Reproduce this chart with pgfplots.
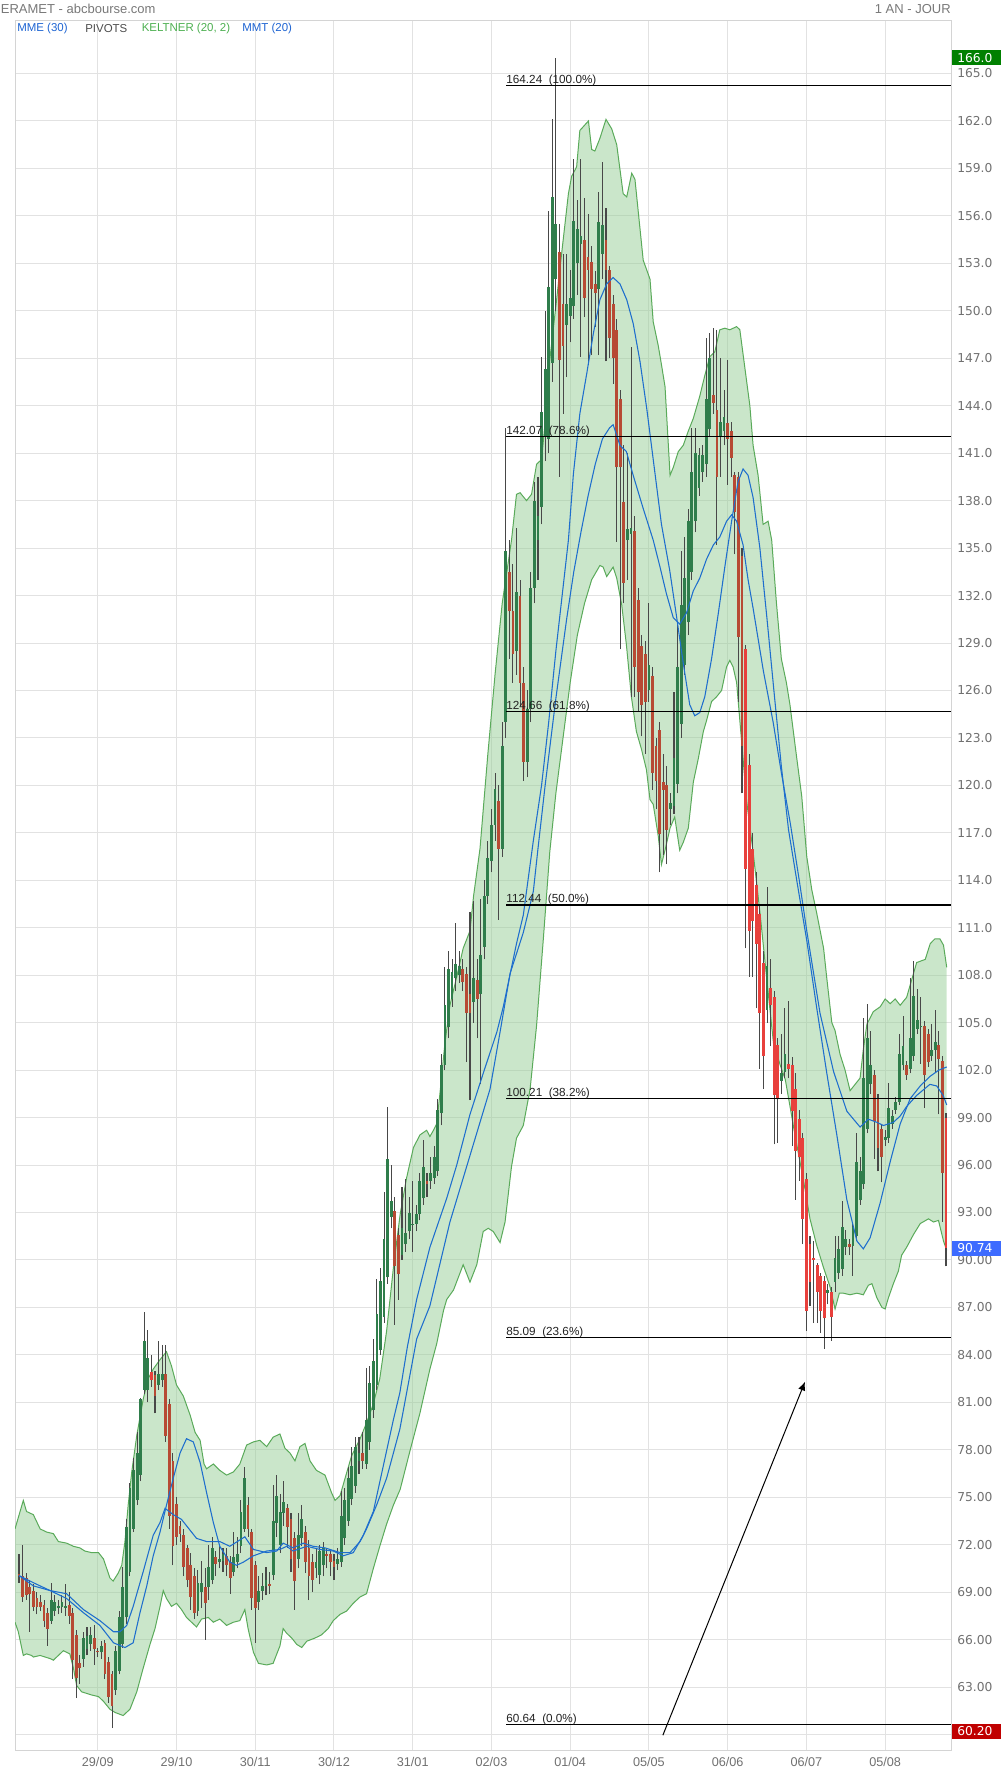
\documentclass[border=0pt]{standalone}
\usepackage{pgfplots}
\pgfplotsset{compat=1.18}
\usepackage{pgfplotstable}
\usetikzlibrary{arrows.meta}
\usepackage{fontspec}
\setmainfont{Liberation Sans}
\newfontfamily\dejavu{DejaVu Sans}
\definecolor{labgray}{RGB}{112,112,112}
\definecolor{headgray}{RGB}{120,120,120}
\definecolor{framegray}{RGB}{212,212,212}
\definecolor{gridgray}{RGB}{226,226,226}
\definecolor{wick}{RGB}{72,72,72}
\definecolor{cgreen}{RGB}{47,125,75}
\definecolor{cred}{RGB}{183,74,52}
\definecolor{cbright}{RGB}{232,64,60}
\definecolor{keltline}{RGB}{90,170,90}
\definecolor{keltfill}{RGB}{150,205,150}
\definecolor{mablue}{RGB}{30,110,205}
\definecolor{legblue}{RGB}{30,100,210}
\definecolor{leggreen}{RGB}{76,175,80}
\definecolor{boxgreen}{RGB}{0,128,0}
\definecolor{boxblue}{RGB}{61,107,255}
\definecolor{boxred}{RGB}{192,0,0}
\definecolor{fibtext}{RGB}{34,34,34}
\newcommand\hfont{\fontsize{9.75pt}{11pt}\selectfont}
\newcommand\lfont{\fontsize{8.6pt}{10pt}\selectfont}
\newcommand\xfont{\fontsize{9.5pt}{11pt}\selectfont}
\newcommand\yfont{\dejavu\fontsize{9.2pt}{10pt}\selectfont}
\newcommand\ffont{\fontsize{8.8pt}{10pt}\selectfont}

\pgfplotstableread{
i o h l c
9 67.2 69.6 67.0 68.5
10 67.8 68.8 67.5 68.4
11 68.0 68.5 67.6 68.1
12 68.05 68.8 67.7 68.4
13 68.0 69.5 67.5 68.1
18 64.8 66.5 64.3 66.1
19 65.4 66.8 65.0 66.2
20 65.7 66.8 65.3 66.3
23 65.2 65.9 64.8 65.6
27 62.8 65.6 62.5 65.3
28 64.0 67.8 63.8 67.4
29 65.7 70.6 65.5 69.3
30 67.4 73.6 67.0 73.1
31 70.3 75.9 70.0 75.6
32 73.0 77.5 72.8 76.7
33 74.8 79.1 74.5 77.8
34 76.4 81.3 76.0 81.2
35 81.8 86.7 81.5 84.9
36 81.8 85.6 81.0 83.8
39 82.1 84.9 81.8 82.8
40 82.4 84.6 82.0 82.8
50 67.8 70.4 67.5 69.6
51 69.0 71.0 68.0 69.6
53 69.3 72.0 68.5 70.6
54 69.8 72.5 69.5 71.8
56 70.9 72.0 70.5 71.1
57 71.0 71.8 70.3 71.4
60 70.3 72.8 70.0 71.2
61 70.9 72.5 70.5 71.4
62 71.9 74.8 71.5 74.05
63 73.0 76.9 72.8 76.2
67 68.4 70.0 67.9 69.1
68 69.1 70.2 68.5 69.4
69 69.4 70.6 68.8 69.8
71 70.1 75.8 69.8 73.5
72 73.4 76.4 72.5 75.1
73 72.0 75.2 71.5 74.05
74 74.0 76.0 73.2 74.7
78 71.1 74.0 70.5 72.6
79 72.4 74.5 71.9 73.6
83 70.5 71.7 69.9 70.9
84 70.1 72.0 69.5 71.6
85 70.7 72.2 70.0 71.8
89 70.8 71.8 70.4 71.1
90 70.9 75.4 70.6 73.8
91 72.4 75.6 72.0 74.8
92 73.5 76.9 73.2 76.2
93 74.9 78.2 74.5 77.0
94 75.7 78.8 75.3 78.2
95 77.3 78.8 76.5 77.8
97 77.1 83.2 76.8 79.9
98 78.5 83.3 78.0 82.2
99 80.5 85.0 80.0 83.6
100 82.1 88.8 81.8 86.6
101 84.3 89.5 84.0 88.7
102 86.4 94.3 86.0 91.3
103 88.9 99.7 88.5 96.4
104 92.7 96.0 92.0 93.7
107 90.3 94.6 90.0 92.0
108 91.0 95.1 90.5 91.7
109 91.8 94.0 91.3 93.0
110 92.2 95.0 90.5 92.3
111 92.3 93.5 91.8 92.9
112 92.9 95.5 92.5 95.0
113 93.9 97.6 93.5 95.9
115 95.0 96.5 94.5 95.5
116 95.2 97.2 94.8 96.5
117 95.6 100.2 95.3 99.5
118 99.3 103.0 98.5 102.3
119 102.3 108.5 102.0 106.1
120 104.7 109.5 104.0 108.4
121 106.5 109.0 106.0 108.2
122 107.8 111.3 107.0 108.7
123 108.0 109.5 107.5 108.6
127 106.3 112.7 105.0 107.8
129 106.8 112.8 101.1 109.3
130 109.8 114.0 109.0 113.0
131 113.0 116.5 112.5 115.4
132 115.2 118.5 114.5 117.5
133 117.5 120.8 116.5 119.8
135 116.0 124.0 115.5 122.5
136 124.0 142.6 123.0 134.8
139 128.5 136.3 127.0 132.2
142 121.5 126.0 120.5 124.8
143 124.8 133.5 124.0 132.5
144 132.5 139.2 131.5 138.0
145 135.5 139.5 133.0 137.0
146 137.6 147.1 136.5 143.6
147 142.0 150.0 140.5 146.3
148 141.9 156.3 141.0 151.5
149 146.7 162.1 145.5 157.2
150 152.0 166.0 150.0 155.5
153 149.1 153.6 145.8 150.4
154 149.7 152.6 148.0 150.8
155 150.3 159.6 149.5 155.7
156 153.0 157.0 151.0 155.2
157 154.2 159.6 147.1 154.7
162 151.4 157.5 147.2 155.6
163 153.6 159.4 152.0 155.4
170 135.5 141.0 133.0 136.2
171 135.9 147.7 125.6 136.3
176 126.0 131.5 125.3 127.6
182 118.5 119.5 117.5 118.9
183 118.7 125.9 118.2 121.7
184 120.1 130.4 119.5 127.5
185 123.9 134.8 123.0 131.4
186 127.6 135.7 127.0 133.1
187 130.3 137.5 129.5 136.7
188 133.5 142.6 133.0 139.8
189 136.7 142.6 136.0 141.0
190 138.8 141.3 138.3 140.9
191 139.8 141.5 139.2 140.9
192 140.3 148.3 139.5 144.4
193 142.5 148.6 142.0 147.0
196 142.0 147.0 139.5 143.0
197 142.4 145.0 141.5 143.3
209 105.8 113.6 105.0 108.6
213 101.3 104.3 100.5 101.8
214 101.9 105.9 101.5 103.0
226 87.9 88.5 87.2 88.1
228 88.6 91.5 88.0 90.1
229 89.2 91.5 88.8 90.7
230 89.4 93.7 89.0 92.1
231 90.8 91.9 90.3 91.3
233 90.9 92.3 89.0 92.1
234 91.5 98.0 91.2 96.2
235 93.8 96.5 93.5 95.6
236 94.8 105.3 94.5 101.5
237 98.3 106.2 98.0 104.0
238 101.1 104.5 100.5 102.3
242 97.6 98.2 97.2 97.8
243 97.7 101.2 97.4 99.6
244 98.6 99.5 98.3 99.1
245 99.5 100.3 99.2 100.0
246 100.0 104.3 99.8 103.0
247 102.3 105.4 102.0 103.5
249 102.1 107.8 101.8 104.0
250 102.9 108.9 102.6 106.7
251 104.6 107.1 104.3 105.2
252 104.7 106.6 102.4 104.8
255 102.9 104.9 102.6 103.3
256 103.3 105.8 101.8 103.8
}\greenT

\pgfplotstableread{
i o h l c
0 70.16 71.4 69.6 70.0
1 70.0 72.0 68.4 68.7
2 69.9 70.2 68.5 68.8
3 69.3 69.8 66.5 68.9
4 69.1 69.5 67.8 68.05
5 68.6 69.0 67.6 68.05
6 68.4 68.8 67.8 68.05
7 68.2 68.5 66.8 67.2
8 67.7 68.0 65.6 66.7
14 68.2 69.0 67.0 67.5
15 67.7 68.0 63.5 64.7
16 66.3 66.6 62.3 63.6
17 64.5 65.0 63.2 64.2
21 66.1 66.9 64.4 65.4
22 65.3 65.5 64.9 65.2
24 65.8 66.0 63.5 63.8
25 64.6 64.9 62.0 62.4
26 63.8 64.0 60.4 61.8
38 82.7 83.0 80.3 81.4
41 82.8 84.6 78.5 78.9
42 80.9 81.2 73.0 73.8
43 77.3 77.8 70.7 71.9
44 74.6 75.0 72.0 72.5
45 73.2 73.5 72.2 72.7
46 72.6 73.0 70.0 70.6
47 71.8 72.0 69.3 69.8
48 70.7 71.5 67.9 68.7
49 70.0 70.5 67.3 67.7
52 69.3 70.5 66.0 68.3
55 71.2 71.6 70.0 70.8
58 71.3 71.8 70.0 70.7
59 70.9 71.3 68.9 69.9
64 74.5 75.0 72.5 73.0
65 72.8 73.0 67.9 68.6
66 70.7 71.0 65.8 68.0
70 69.5 70.3 68.9 69.4
75 74.3 74.6 71.8 73.1
76 73.6 74.0 70.3 71.1
77 72.4 72.8 67.9 69.7
80 72.8 73.2 70.2 70.9
81 71.8 72.3 68.5 70.0
82 70.9 71.4 69.0 69.8
86 71.4 71.8 70.5 71.3
87 71.4 71.7 70.0 70.9
88 71.0 71.4 69.8 70.6
96 77.8 79.1 76.8 77.3
105 93.1 94.0 85.9 89.6
106 91.6 92.0 87.5 89.1
114 95.0 95.5 94.0 94.8
124 108.4 109.0 107.0 107.6
125 108.1 108.5 102.5 105.6
126 106.8 112.0 100.1 105.6
128 107.7 109.0 104.0 106.5
134 119.0 120.0 111.5 116.0
137 133.5 135.5 128.0 131.0
138 131.0 134.0 126.5 128.3
140 132.0 133.0 125.0 126.5
141 126.5 127.5 120.3 121.5
151 153.7 155.5 139.5 146.9
152 150.4 153.6 143.5 147.8
158 154.5 157.1 149.6 150.8
159 153.4 156.1 146.6 152.6
160 153.1 154.1 147.2 151.4
161 151.7 152.5 149.0 151.1
164 154.5 156.5 146.8 152.6
165 152.6 152.8 147.0 148.3
166 150.4 151.0 145.4 147.0
167 148.8 149.5 135.4 140.1
168 144.4 145.0 128.6 140.1
169 137.9 141.5 131.5 132.8
172 136.1 137.0 125.6 127.5
173 131.7 132.5 124.7 125.9
174 128.8 129.5 123.1 125.1
175 128.3 129.1 122.0 125.3
177 126.9 127.5 119.7 120.8
178 122.5 123.0 118.5 120.3
179 123.5 124.0 114.5 116.9
180 120.2 122.0 115.6 119.7
181 120.0 121.2 115.0 117.2
194 144.7 148.9 143.5 144.2
195 143.7 148.8 135.2 139.5
198 142.9 146.9 139.0 141.9
199 142.4 143.0 139.5 140.7
200 139.6 139.8 134.6 137.3
201 139.5 139.8 125.3 129.4
202 134.5 135.0 119.5 122.5
232 91.0 91.3 90.3 90.8
239 101.7 102.0 96.4 98.8
240 100.2 100.5 95.6 97.1
241 98.3 98.6 94.9 96.5
248 102.3 102.6 101.4 101.7
253 104.8 105.1 99.6 101.7
254 104.3 104.6 102.2 102.5
257 103.6 104.5 99.2 102.7
258 102.6 102.9 92.4 95.5
}\redT

\pgfplotstableread{
i o h l c
37 82.9 84.0 82.0 82.4
203 128.6 128.9 109.7 114.7
204 121.3 122.0 107.9 110.8
205 116.0 117.0 107.9 111.4
206 113.7 114.5 105.9 110.0
207 111.9 112.5 102.1 105.6
208 108.8 109.5 100.8 102.9
210 107.2 109.0 103.5 106.1
211 106.6 107.0 97.3 100.4
212 103.6 104.0 97.4 100.2
215 102.4 106.4 101.5 102.1
216 102.3 102.8 97.2 99.4
217 100.8 101.8 93.8 96.9
218 98.9 99.5 95.0 96.5
219 97.7 98.0 91.0 92.6
220 95.1 95.5 85.5 86.8
221 91.0 91.5 87.1 88.6
222 90.1 91.2 86.0 90.0
223 89.7 89.8 86.0 88.0
224 89.0 89.2 85.4 86.8
225 88.7 89.0 84.4 86.3
227 88.0 88.3 84.9 86.4
259 99.0 99.3 89.6 90.74
}\brightT

\begin{document}
\begin{tikzpicture}
\begin{axis}[
  at={(11.25pt,17.25pt)}, anchor=south west,
  scale only axis, width=702pt, height=1297.5pt,
  xmin=-1.12, xmax=260.4, ymin=58.96, ymax=168.32,
  axis line style={draw=framegray, line width=0.75pt},
  major tick length=0pt,
  xtick={22,44,...,242},
  xticklabels={29/09,29/10,30/11,30/12,31/01,02/03,01/04,05/05,06/06,06/07,05/08},
  ytick={60,63,...,165},
  yticklabels={{},63.00,66.00,69.00,72.00,75.00,78.00,81.00,84.00,87.00,90.00,93.00,96.00,99.00,102.0,105.0,108.0,111.0,114.0,117.0,120.0,123.0,126.0,129.0,132.0,135.0,138.0,141.0,144.0,147.0,150.0,153.0,156.0,159.0,162.0,165.0},
  yticklabel pos=right,
  grid=major, grid style={draw=gridgray, line width=0.75pt},
  xticklabel style={font=\xfont, text=labgray, anchor=north, inner sep=0pt, yshift=-4.5pt},
  yticklabel style={font=\yfont, text=labgray, anchor=west, inner sep=0pt, xshift=4.5pt},
]
% Keltner channel fill
\addplot[fill=keltfill, fill opacity=0.5, draw=none, forget plot] coordinates {
(-1.12,73.0) (1.2,74.8) (2.1,74.1) (4,73.9) (5.9,73.0) (7.7,72.8) (9.6,72.7) (11,72.2) (13.3,72.1) (15.2,71.9) (17,71.8) (18.4,71.6) (20.3,71.5) (22.2,71.5) (23.6,71.1) (24.5,70.5) (25.4,69.9) (26.3,69.7) (27.7,70.2) (28.7,70.7) (29.6,72.2) (30.5,74.5) (31.5,76.6) (32.9,78.9) (34.7,81.2) (36.1,82.5) (37.5,83.1) (39.4,83.7) (41.2,84.2) (42.6,83.3) (44,82.1) (45.9,81.4) (47.8,80.2) (49.2,79.1) (50.6,78.6) (51.7,77.1) (52.4,76.8) (54.3,77.1) (56.1,76.7) (58,76.4) (59.9,76.6) (61.7,77.1) (63.6,78.3) (65.5,78.5) (67.3,78.6) (69.2,78.2) (71,78.8) (72.9,79.0) (74.3,78.1) (75.7,77.8) (77.1,77.3) (78.5,78.2) (79.9,78.4) (81.3,77.3) (83.1,76.7) (85.5,76.4) (87.3,75.3) (88.3,74.8) (89.7,75.1) (91.1,76.2) (92.9,77.6) (95.3,78.7) (97.1,79.7) (99,80.9) (100.8,82.5) (102.7,85.5) (104.6,89.5) (106.5,92.9) (108.3,95.2) (110.2,97.1) (112,97.9) (113.9,98.2) (114.8,97.8) (115.8,98.2) (116.7,98.6) (117.6,100.5) (119,103.7) (120.4,106.1) (122.3,107.9) (124.1,109.7) (126,110.8) (127,113) (128.8,116) (131,122) (133,127) (135,131.5) (137.6,135.5) (139,138.4) (140,138.5) (141.8,138.0) (143.2,138.4) (144.6,140.3) (146,140.6) (147.4,143.9) (148.3,146.9) (150.2,150.7) (151.6,153.6) (153.5,157.4) (154.4,158.5) (155.8,159.1) (156.7,161.4) (159.1,162.0) (160,160.2) (160.9,160.1) (162.3,160.9) (164,162.1) (165.6,161.5) (167,160.5) (168.8,157.4) (169.8,157.2) (171.2,158.7) (172.1,158.3) (174.4,153.2) (176.3,152.0) (177.2,149.3) (178.6,147.8) (179.5,146.6) (180.5,145.2) (181.9,139.6) (182.8,140.1) (184.2,141.1) (185.6,141.5) (187,142.4) (188.4,143.2) (190.2,144.6) (191.6,145.9) (193,147.1) (194.4,147.4) (195.8,148.8) (197.2,148.9) (198.6,148.8) (200.5,149.0) (201.4,148.8) (202.8,146.4) (204.2,144.0) (205.1,141.5) (206.5,139.6) (207.9,136.5) (209.3,136.7) (210.3,135.5) (211.6,131.6) (213,128.0) (214.4,126.5) (215.4,125.1) (217.2,121.9) (218.7,119.3) (220.1,115.5) (221.5,113.4) (222.9,111.9) (224.8,109.7) (225.7,107.8) (227.1,105.0) (228,104.5) (229.4,103.0) (230.8,102.0) (232.2,100.7) (233.6,101.1) (235,101.5) (235.9,103.3) (236.9,104.9) (238.7,105.7) (240.6,106.0) (242,106.5) (243.4,106.2) (244.8,106.5) (246.2,106.1) (248,106.6) (249.4,107.7) (250.8,108.8) (253.2,109.0) (254.6,110.0) (255.9,110.3) (257.3,110.3) (258.3,109.9) (259.2,108.5)
(259.2,90.6) (258.3,91.2) (256.9,92.5) (255.5,92.4) (254.1,92.6) (251.8,92.3) (249.9,91.6) (248,90.8) (246.6,90.3) (245.7,89.3) (244.3,88.5) (242.9,87.6) (242,86.9) (241.1,87.0) (239.7,87.6) (238.3,88.5) (237.3,88.4) (235.9,87.8) (234.1,87.9) (232.2,87.8) (230.3,87.9) (229.2,87.9) (228,86.9) (226.6,88.3) (224.8,89.5) (222.9,90.9) (221,92.6) (219.6,94.5) (218.2,96.2) (216.8,97.9) (215.5,99.6) (214.1,101.4) (212.7,102.3) (210.8,103.7) (208.9,107.8) (207.1,111.8) (205.1,115.8) (203.3,119.0) (201.4,124.1) (200.5,126.5) (199.5,127.5) (198.6,127.9) (197.7,127.5) (196.3,126.0) (194.9,125.6) (193.5,125.3) (192.1,124.1) (191.2,123.4) (189.8,121.7) (188.4,120.2) (187,117.3) (185.6,116.4) (184.6,115.9) (183.2,118.0) (181.9,117.3) (180.5,115.9) (179.5,115.0) (178.6,116.8) (177.2,118.8) (176.3,119.1) (175.3,121.0) (173.9,122.3) (172.5,123.4) (171.1,125.6) (169.7,128.9) (168.4,131.4) (167,133.1) (166,133.8) (164.2,133.2) (163.2,133.8) (162.3,133.9) (160,133) (158,131.5) (156,129.5) (154,126.5) (152,123) (150,119.5) (148.3,115.8) (146.5,110.3) (144.6,104.8) (142.8,100.8) (140.9,98.5) (139,97.7) (137.6,95.9) (135.8,92.4) (134.4,91.1) (132.5,91.8) (131.1,92.0) (129.7,91.8) (127.9,89.7) (126,88.6) (124.1,89.7) (121.4,88.1) (119.5,87.5) (118.6,86.8) (116.7,84.7) (114.8,83.1) (112,80.3) (109.2,77.9) (106.5,75.5) (104.6,74.5) (102.7,73.3) (100.8,71.9) (99,70.5) (97.1,68.9) (95.3,68.7) (93.4,68.3) (91.5,67.8) (89.7,67.6) (87.8,67.2) (86.4,66.7) (84.5,66.3) (82.7,66.1) (80.4,65.9) (79,65.5) (77.6,65.7) (76.2,66.1) (74.8,66.4) (73.8,66.7) (72.9,65.6) (71,64.5) (69.2,64.4) (66.9,64.5) (65.5,65.2) (64,66.7) (63.1,67.9) (61.7,67.2) (59.9,67.1) (58,66.9) (56.1,67.3) (54.3,67.1) (52.9,67.4) (51,67.3) (49.6,66.8) (48.2,67.1) (46.8,67.4) (45.4,67.9) (44,68.3) (42.6,68.1) (41.2,68.6) (40.3,69.1) (39.4,68.1) (38,66.7) (36.6,65.7) (34.7,64.2) (32.9,62.7) (31,61.6) (29.1,61.2) (26.8,61.4) (25.4,61.6) (23.6,62.1) (22.2,62.4) (20.3,62.5) (18.9,62.6) (17.5,62.7) (16.1,63.1) (15.2,64.2) (14.2,65.1) (12.4,65.3) (11,65.0) (9.6,64.7) (8.7,64.8) (5.9,65.0) (4,64.9) (3.5,65.0) (2.1,65.1) (1.2,65.0) (-0.2,66.5) (-1.12,67.1)
} -- cycle;
% Keltner lines
\addplot[draw=keltline, line width=0.75pt] coordinates {
(-1.12,73.0) (1.2,74.8) (2.1,74.1) (4,73.9) (5.9,73.0) (7.7,72.8) (9.6,72.7) (11,72.2) (13.3,72.1) (15.2,71.9) (17,71.8) (18.4,71.6) (20.3,71.5) (22.2,71.5) (23.6,71.1) (24.5,70.5) (25.4,69.9) (26.3,69.7) (27.7,70.2) (28.7,70.7) (29.6,72.2) (30.5,74.5) (31.5,76.6) (32.9,78.9) (34.7,81.2) (36.1,82.5) (37.5,83.1) (39.4,83.7) (41.2,84.2) (42.6,83.3) (44,82.1) (45.9,81.4) (47.8,80.2) (49.2,79.1) (50.6,78.6) (51.7,77.1) (52.4,76.8) (54.3,77.1) (56.1,76.7) (58,76.4) (59.9,76.6) (61.7,77.1) (63.6,78.3) (65.5,78.5) (67.3,78.6) (69.2,78.2) (71,78.8) (72.9,79.0) (74.3,78.1) (75.7,77.8) (77.1,77.3) (78.5,78.2) (79.9,78.4) (81.3,77.3) (83.1,76.7) (85.5,76.4) (87.3,75.3) (88.3,74.8) (89.7,75.1) (91.1,76.2) (92.9,77.6) (95.3,78.7) (97.1,79.7) (99,80.9) (100.8,82.5) (102.7,85.5) (104.6,89.5) (106.5,92.9) (108.3,95.2) (110.2,97.1) (112,97.9) (113.9,98.2) (114.8,97.8) (115.8,98.2) (116.7,98.6) (117.6,100.5) (119,103.7) (120.4,106.1) (122.3,107.9) (124.1,109.7) (126,110.8) (127,113) (128.8,116) (131,122) (133,127) (135,131.5) (137.6,135.5) (139,138.4) (140,138.5) (141.8,138.0) (143.2,138.4) (144.6,140.3) (146,140.6) (147.4,143.9) (148.3,146.9) (150.2,150.7) (151.6,153.6) (153.5,157.4) (154.4,158.5) (155.8,159.1) (156.7,161.4) (159.1,162.0) (160,160.2) (160.9,160.1) (162.3,160.9) (164,162.1) (165.6,161.5) (167,160.5) (168.8,157.4) (169.8,157.2) (171.2,158.7) (172.1,158.3) (174.4,153.2) (176.3,152.0) (177.2,149.3) (178.6,147.8) (179.5,146.6) (180.5,145.2) (181.9,139.6) (182.8,140.1) (184.2,141.1) (185.6,141.5) (187,142.4) (188.4,143.2) (190.2,144.6) (191.6,145.9) (193,147.1) (194.4,147.4) (195.8,148.8) (197.2,148.9) (198.6,148.8) (200.5,149.0) (201.4,148.8) (202.8,146.4) (204.2,144.0) (205.1,141.5) (206.5,139.6) (207.9,136.5) (209.3,136.7) (210.3,135.5) (211.6,131.6) (213,128.0) (214.4,126.5) (215.4,125.1) (217.2,121.9) (218.7,119.3) (220.1,115.5) (221.5,113.4) (222.9,111.9) (224.8,109.7) (225.7,107.8) (227.1,105.0) (228,104.5) (229.4,103.0) (230.8,102.0) (232.2,100.7) (233.6,101.1) (235,101.5) (235.9,103.3) (236.9,104.9) (238.7,105.7) (240.6,106.0) (242,106.5) (243.4,106.2) (244.8,106.5) (246.2,106.1) (248,106.6) (249.4,107.7) (250.8,108.8) (253.2,109.0) (254.6,110.0) (255.9,110.3) (257.3,110.3) (258.3,109.9) (259.2,108.5)
};
\addplot[draw=keltline, line width=0.75pt] coordinates {
(-1.12,67.1) (-0.2,66.5) (1.2,65.0) (2.1,65.1) (3.5,65.0) (4,64.9) (5.9,65.0) (8.7,64.8) (9.6,64.7) (11,65.0) (12.4,65.3) (14.2,65.1) (15.2,64.2) (16.1,63.1) (17.5,62.7) (18.9,62.6) (20.3,62.5) (22.2,62.4) (23.6,62.1) (25.4,61.6) (26.8,61.4) (29.1,61.2) (31,61.6) (32.9,62.7) (34.7,64.2) (36.6,65.7) (38,66.7) (39.4,68.1) (40.3,69.1) (41.2,68.6) (42.6,68.1) (44,68.3) (45.4,67.9) (46.8,67.4) (48.2,67.1) (49.6,66.8) (51,67.3) (52.9,67.4) (54.3,67.1) (56.1,67.3) (58,66.9) (59.9,67.1) (61.7,67.2) (63.1,67.9) (64,66.7) (65.5,65.2) (66.9,64.5) (69.2,64.4) (71,64.5) (72.9,65.6) (73.8,66.7) (74.8,66.4) (76.2,66.1) (77.6,65.7) (79,65.5) (80.4,65.9) (82.7,66.1) (84.5,66.3) (86.4,66.7) (87.8,67.2) (89.7,67.6) (91.5,67.8) (93.4,68.3) (95.3,68.7) (97.1,68.9) (99,70.5) (100.8,71.9) (102.7,73.3) (104.6,74.5) (106.5,75.5) (109.2,77.9) (112,80.3) (114.8,83.1) (116.7,84.7) (118.6,86.8) (119.5,87.5) (121.4,88.1) (124.1,89.7) (126,88.6) (127.9,89.7) (129.7,91.8) (131.1,92.0) (132.5,91.8) (134.4,91.1) (135.8,92.4) (137.6,95.9) (139,97.7) (140.9,98.5) (142.8,100.8) (144.6,104.8) (146.5,110.3) (148.3,115.8) (150,119.5) (152,123) (154,126.5) (156,129.5) (158,131.5) (160,133) (162.3,133.9) (163.2,133.8) (164.2,133.2) (166,133.8) (167,133.1) (168.4,131.4) (169.7,128.9) (171.1,125.6) (172.5,123.4) (173.9,122.3) (175.3,121.0) (176.3,119.1) (177.2,118.8) (178.6,116.8) (179.5,115.0) (180.5,115.9) (181.9,117.3) (183.2,118.0) (184.6,115.9) (185.6,116.4) (187,117.3) (188.4,120.2) (189.8,121.7) (191.2,123.4) (192.1,124.1) (193.5,125.3) (194.9,125.6) (196.3,126.0) (197.7,127.5) (198.6,127.9) (199.5,127.5) (200.5,126.5) (201.4,124.1) (203.3,119.0) (205.1,115.8) (207.1,111.8) (208.9,107.8) (210.8,103.7) (212.7,102.3) (214.1,101.4) (215.5,99.6) (216.8,97.9) (218.2,96.2) (219.6,94.5) (221,92.6) (222.9,90.9) (224.8,89.5) (226.6,88.3) (228,86.9) (229.2,87.9) (230.3,87.9) (232.2,87.8) (234.1,87.9) (235.9,87.8) (237.3,88.4) (238.3,88.5) (239.7,87.6) (241.1,87.0) (242,86.9) (242.9,87.6) (244.3,88.5) (245.7,89.3) (246.6,90.3) (248,90.8) (249.9,91.6) (251.8,92.3) (254.1,92.6) (255.5,92.4) (256.9,92.5) (258.3,91.2) (259.2,90.6)
};

% candles: wicks
\addplot[draw=none, mark=none, forget plot, error bars/.cd, y dir=plus, y explicit, error mark=none, error bar style={draw=wick, line width=0.8pt}]
  table[x=i, y=l, y error plus expr={\thisrow{h}-\thisrow{l}}] {\greenT};
\addplot[draw=none, mark=none, forget plot, error bars/.cd, y dir=plus, y explicit, error mark=none, error bar style={draw=wick, line width=0.8pt}]
  table[x=i, y=l, y error plus expr={\thisrow{h}-\thisrow{l}}] {\redT};
\addplot[draw=none, mark=none, forget plot, error bars/.cd, y dir=plus, y explicit, error mark=none, error bar style={draw=wick, line width=0.8pt}]
  table[x=i, y=l, y error plus expr={\thisrow{h}-\thisrow{l}}] {\brightT};
% candles: bodies
\addplot[draw=none, mark=none, forget plot, error bars/.cd, y dir=plus, y explicit, error mark=none, error bar style={draw=cgreen, line width=2.1pt}]
  table[x=i, y=o, y error plus expr={\thisrow{c}-\thisrow{o}}] {\greenT};
\addplot[draw=none, mark=none, forget plot, error bars/.cd, y dir=plus, y explicit, error mark=none, error bar style={draw=cred, line width=2.1pt}]
  table[x=i, y=c, y error plus expr={\thisrow{o}-\thisrow{c}}] {\redT};
\addplot[draw=none, mark=none, forget plot, error bars/.cd, y dir=plus, y explicit, error mark=none, error bar style={draw=cbright, line width=2.1pt}]
  table[x=i, y=c, y error plus expr={\thisrow{o}-\thisrow{c}}] {\brightT};

% moving averages
\addplot[mablue, line width=0.8pt] coordinates {
(0,70.05) (4,69.6) (8.7,69.1) (13.3,68.6) (18,67.7) (22.6,66.9) (26.4,65.8) (29.6,65.5) (31.9,65.8) (33.8,67.7) (35.7,69.4) (37.5,71.3) (39.4,72.8) (41.2,74.5) (43.1,76.2) (45,77.8) (46.8,78.7) (48.7,78.5) (50.6,77.2) (52.4,75.3) (54.3,73.4) (56.1,71.9) (58.9,70.9) (60.8,70.7) (62.7,70.9) (65.5,71.3) (69.2,71.6) (72.9,71.7) (74.8,71.9) (76.6,71.6) (80.4,71.9) (84.1,71.7) (87.8,71.6) (90.6,71.3) (93.4,71.5) (96.2,72.6) (99,74.1) (101.8,77.0) (104.6,79.9) (106.4,81.6) (108.5,84.5) (111.1,87.5) (114.8,90.8) (119.5,93.9) (122.3,96.0) (126,99.2) (129.7,101.8) (133.5,104.4) (135.3,106.0) (139,110.0) (140.9,111.8) (143.7,116.5) (146,120) (148,124) (150,128.5) (152,132.5) (153.5,135.5) (154.9,139.7) (156.7,143.5) (158.6,146.0) (160.5,148.6) (162.3,150.7) (164.2,151.7) (166,152.1) (167.9,151.7) (169.8,150.7) (171.6,149.2) (173.5,146.8) (175.4,143.8) (177.2,140.6) (179.5,136.5) (181.8,133.6) (183.7,130.7) (185.6,127.7) (187.4,125.1) (188.8,124.4) (190.2,124.6) (191.6,125.6) (193.5,128.0) (195.4,130.9) (197.2,133.8) (199.1,136.7) (200.9,139.2) (202.3,140.0) (203.7,139.6) (205.1,138.2) (207,135.0) (209,130.5) (211,125.8) (213,121.2) (215,117.2) (217.3,114.0) (220.1,110.2) (222.9,105.9) (225.7,101.8) (228.5,97.9) (231.3,93.8) (234.1,91.2) (235.9,90.7) (237.8,91.4) (240.6,93.6) (243.4,96.2) (246.2,98.6) (249,100.2) (251.8,101.0) (254.5,101.6) (257,102.0) (259.2,102.2)
};
\addplot[mablue, line width=0.8pt] coordinates {
(0,70.05) (4,69.4) (8.7,69.1) (13.3,68.9) (18,67.9) (22.6,67.2) (26.4,66.5) (28.2,66.5) (30.1,66.9) (31.9,68.1) (34.7,70.3) (37.5,72.6) (39.4,73.4) (40.8,74.3) (43.1,73.9) (45.4,73.6) (46.8,73.2) (49.6,72.4) (52.4,72.2) (56.1,72.2) (58.9,71.9) (63.1,72.5) (65.5,71.7) (69.2,71.5) (72,71.6) (73.8,72.1) (76.6,71.8) (79.4,72.1) (82.2,71.9) (85.5,71.8) (89.7,71.5) (92.5,71.5) (95.3,72.2) (97.1,73.0) (99.9,74.5) (102.7,76.2) (106.4,79.3) (111.1,85.0) (114.8,87.1) (120.4,92.4) (126,96.6) (131.6,100.8) (134.4,104.4) (137.2,108.1) (140.9,110.7) (143.7,113.3) (145,116) (147,120) (150,125.5) (153,130.5) (155,133.5) (157,136) (159,138.3) (161,140.3) (163,141.9) (165,142.6) (166,142.8) (167.9,141.5) (169.7,141.1) (171.6,139.6) (174.4,137.5) (177.2,135.5) (179.1,133.8) (180.9,132.1) (182.8,130.6) (184.6,130.2) (186.5,130.9) (188.4,132.3) (190.2,133.1) (192.1,134.3) (194,135.2) (195.8,135.7) (197.7,136.7) (199.1,137.1) (200.5,136.7) (202.3,135.2) (203.7,133.0) (205.1,131.2) (208,127.2) (210.7,124.0) (213,120.8) (215.5,117.6) (218,114.0) (220.1,110.8) (223.8,105.6) (227.6,101.9) (231.3,99.4) (235,98.4) (237.3,98.9) (239.7,98.7) (241.5,98.5) (244.3,98.7) (246.2,99.1) (248,99.7) (250.8,100.4) (254.5,101.1) (256.4,101.0) (258.2,100.4) (259.2,99.8)
};

% Fibonacci levels
\addplot[black, line width=0.9pt] coordinates {(136.1,164.24) (260.4,164.24)};
\addplot[black, line width=0.9pt] coordinates {(136.1,142.07) (260.4,142.07)};
\addplot[black, line width=0.9pt] coordinates {(136.1,124.66) (260.4,124.66)};
\addplot[black, line width=0.9pt] coordinates {(136.1,112.44) (260.4,112.44)};
\addplot[black, line width=0.9pt] coordinates {(136.1,100.21) (260.4,100.21)};
\addplot[black, line width=0.9pt] coordinates {(136.1,85.09) (260.4,85.09)};
\addplot[black, line width=0.9pt] coordinates {(136.1,60.64) (260.4,60.64)};
\node[anchor=base west, inner sep=0pt, font=\ffont, text=fibtext, yshift=1.6pt] at (axis cs:136.1,164.24) {164.24\ \ (100.0\%)};
\node[anchor=base west, inner sep=0pt, font=\ffont, text=fibtext, yshift=1.6pt] at (axis cs:136.1,142.07) {142.07\ \ (78.6\%)};
\node[anchor=base west, inner sep=0pt, font=\ffont, text=fibtext, yshift=1.6pt] at (axis cs:136.1,124.66) {124.66\ \ (61.8\%)};
\node[anchor=base west, inner sep=0pt, font=\ffont, text=fibtext, yshift=1.6pt] at (axis cs:136.1,112.44) {112.44\ \ (50.0\%)};
\node[anchor=base west, inner sep=0pt, font=\ffont, text=fibtext, yshift=1.6pt] at (axis cs:136.1,100.21) {100.21\ \ (38.2\%)};
\node[anchor=base west, inner sep=0pt, font=\ffont, text=fibtext, yshift=1.6pt] at (axis cs:136.1,85.09) {85.09\ \ (23.6\%)};
\node[anchor=base west, inner sep=0pt, font=\ffont, text=fibtext, yshift=1.6pt] at (axis cs:136.1,60.64) {60.64\ \ (0.0\%)};

% arrow
\addplot[black, line width=0.75pt, -{Latex[length=6.5pt,width=5.5pt]}] coordinates {(179.9,59.96) (219.6,82.3)};

\coordinate (bA) at (axis cs:260.4,166);
\coordinate (bB) at (axis cs:260.4,90.74);
\coordinate (bC) at (axis cs:260.4,60.2);
\end{axis}

% price boxes on the right
\node[fill=boxgreen, text=white, anchor=west, inner xsep=3.75pt, inner ysep=0pt, minimum height=11.5pt, text width=30pt, font=\yfont, xshift=0.75pt] at (bA) {166.0};
\node[fill=boxblue, text=white, anchor=west, inner xsep=3.75pt, inner ysep=0pt, minimum height=11.5pt, text width=30pt, font=\yfont, xshift=0.75pt] at (bB) {90.74};
\node[fill=boxred, text=white, anchor=west, inner xsep=3.75pt, inner ysep=0pt, minimum height=11.5pt, text width=30pt, font=\yfont, xshift=0.75pt] at (bC) {60.20};

% header and legend
\node[anchor=west, inner sep=0pt, font=\hfont, text=headgray] at (0.5pt,{(1774-9)*0.75pt}) {ERAMET - abcbourse.com};
\node[anchor=east, inner sep=0pt, font=\hfont, text=headgray] at ({951*0.75pt},{(1774-9)*0.75pt}) {1 AN - JOUR};
\node[anchor=west, inner sep=0pt, font=\lfont, text=legblue] at ({17*0.75pt},{(1774-29)*0.75pt}) {MME (30)};
\node[anchor=west, inner sep=0pt, font=\lfont, text=black!70] at ({85*0.75pt},{(1774-29)*0.75pt}) {PIVOTS};
\node[anchor=west, inner sep=0pt, font=\lfont, text=leggreen] at ({141.5*0.75pt},{(1774-29)*0.75pt}) {KELTNER (20, 2)};
\node[anchor=west, inner sep=0pt, font=\lfont, text=legblue] at ({242*0.75pt},{(1774-29)*0.75pt}) {MMT (20)};

\pgfresetboundingbox
\path[use as bounding box] (0,0) rectangle (750pt,1330.5pt);
\end{tikzpicture}
\end{document}
